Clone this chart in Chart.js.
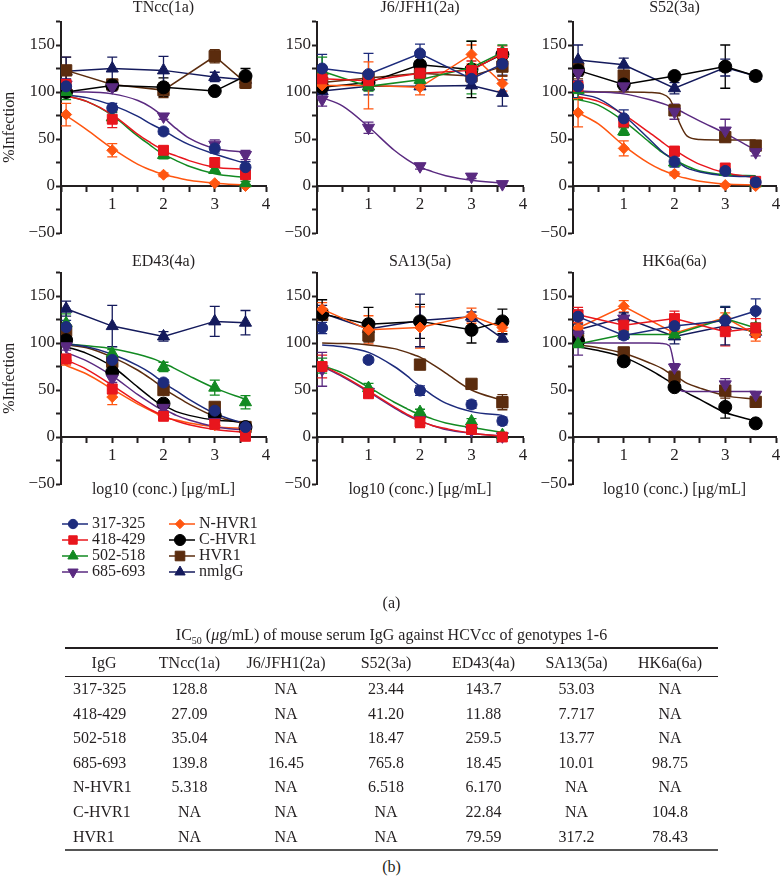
<!DOCTYPE html>
<html>
<head>
<meta charset="utf-8">
<script src="https://cdn.jsdelivr.net/npm/chart.js@4.4.1/dist/chart.umd.min.js"></script>
<style>
  html, body { margin: 0; padding: 0; background: #fff; width: 783px; height: 878px; overflow: hidden; }
  body { position: relative; font-family: "Liberation Serif", "DejaVu Serif", serif; color: #231f20; }
  canvas { position: absolute; }
  .lab { position: absolute; left: 0; width: 783px; text-align: center; font-size: 16px; line-height: 20px; }
  #ic50 { position: absolute; left: 65px; top: 647px; width: 653px; border-collapse: collapse; font-size: 16px; table-layout: fixed; }
  #ic50 td { padding: 0; height: 24.6px; line-height: 24.6px; text-align: center; white-space: nowrap; }
  #ic50 tr.head td { height: 25px; line-height: 27px; border-top: 2px solid #231f20; border-bottom: 1px solid #231f20; }
  #ic50 tr:last-child td { border-bottom: 2px solid #555; }
  #ic50 td.name { text-align: left; padding-left: 8px; }
  #ic50 tr.head td.name { text-align: center; padding-left: 0; }
</style>
</head>
<body>
<canvas id="p0" width="275" height="252" style="left:0px;top:-2px"></canvas>
<canvas id="p1" width="260" height="252" style="left:272px;top:-2px"></canvas>
<canvas id="p2" width="257" height="252" style="left:528px;top:-2px"></canvas>
<canvas id="p3" width="275" height="260" style="left:0px;top:252px"></canvas>
<canvas id="p4" width="260" height="260" style="left:272px;top:252px"></canvas>
<canvas id="p5" width="257" height="260" style="left:528px;top:252px"></canvas>
<canvas id="legA" width="105" height="90" style="left:56px;top:512px"></canvas>
<canvas id="legB" width="105" height="90" style="left:163px;top:512px"></canvas>
<div class="lab" style="top:593px">(a)</div>
<div class="lab" style="top:625px">IC<sub style="font-size:10px">50</sub> (<i>μ</i>g/mL) of mouse serum IgG against HCVcc of genotypes 1-6</div>
<table id="ic50"></table>
<div class="lab" style="top:857px">(b)</div>

<script>
// ---- data ----
const SERIES = ["317-325", "418-429", "502-518", "685-693", "N-HVR1", "C-HVR1", "HVR1", "nmlgG"];
const TITLES = ["TNcc(1a)", "J6/JFH1(2a)", "S52(3a)", "ED43(4a)", "SA13(5a)", "HK6a(6a)"];
const DOSE_X = [0.1, 1, 2, 3, 3.6];
const FIT_X = [0.1, 0.5, 1, 1.5, 1.75, 1.9, 2, 2.1, 2.25, 2.5, 3, 3.6];

const tnccMean = [
  [106, 83, 58, 40, 20], [108, 71, 38, 25, 12], [100, 73, 33, 17, 3], [108, 105, 74, 44, 33],
  [76, 38, 12, 3, 0], [100, 107, 105, 101, 117], [123, 108, 102, 138, 110], [122, 125, 123, 116, 113]
];
const tnccErr = [
  [8, 5, 3, 5, 6], [10, 9, 4, 4, 4], [8, 6, 4, 3, 2], [6, 4, 3, 5, 5],
  [12, 7, 2, 1, 1], [5, 4, 10, 3, 8], [14, 4, 8, 7, 6], [15, 12, 15, 5, 3]
];
const tnccFit = [
  [97, 94, 86, 74, 66, 62, 59, 56, 51, 44, 34, 24],
  [96, 90, 76, 55, 46, 41, 38, 35, 32, 27, 20, 18],
  [96, 90, 75, 53, 43, 37, 34, 31, 27, 21, 13, 9],
  [100, 100, 98, 91, 84, 78, 73, 68, 61, 51, 40, 36],
  [75, 60, 40, 23, 17, 14, 12, 11, 9, 6, 3, 1],
  null, null, null
];

const j6Mean = [
  [125, 119, 141, 114, 130], [114, 112, 120, 123, 141], [122, 106, 113, 126, 142], [92, 62, 21, 10, 2],
  [107, 107, 105, 140, 109], [105, 110, 129, 124, 140], [110, 115, 120, 117, 127], [101, 106, 106, 107, 99]
];
const j6Err = [
  [15, 22, 10, 10, 12], [8, 10, 6, 10, 8], [15, 5, 6, 28, 8], [7, 6, 3, 2, 1],
  [5, 25, 8, 10, 8], [5, 6, 8, 30, 6], [5, 6, 4, 5, 10], [4, 4, 3, 3, 14]
];
const j6Fit = [
  null, null, null,
  [94, 85, 63, 38, 28, 23, 20, 18, 15, 11, 6, 3],
  null, null, null, null
];

const s52Mean = [
  [106, 72, 26, 16, 4], [106, 68, 37, 19, 5], [102, 58, 25, 15, 3], [120, 106, 79, 59, 36],
  [78, 40, 13, 1, 0], [123, 108, 117, 127, 117], [124, 117.5, 80.5, 52, 43], [134, 129, 104, 126, 117]
];
const s52Err = [
  [12, 9, 6, 4, 2], [6, 6, 5, 5, 2], [10, 4, 4, 3, 2], [8, 5, 8, 12, 4],
  [15, 8, 2, 1, 1], [6, 5, 4, 23, 5], [10, 4, 4, 4, 3], [16, 7, 6, 9, 4]
];
const s52Fit = [
  [98, 93, 75, 50, 37, 31, 27, 24, 19, 15, 11, 10],
  [95, 90, 76, 57, 47, 41, 38, 35, 30, 23, 14, 9],
  [92, 86, 69, 47, 36, 31, 28, 25, 21, 16, 12, 11],
  [101, 100, 98, 92, 88, 85, 82, 80, 76, 69, 56, 38],
  [78, 66, 43, 24, 17, 14, 12, 10, 8, 5, 2, 1],
  null,
  [100, 100, 100, 99.5, 98, 93, 82, 67, 53, 49.5, 49, 49],
  null
];

const ed43Mean = [
  [117, 82, 58, 28, 10.6], [83, 51, 22, 13.5, 0.7], [121, 89, 74.5, 52.5, 37], [96.5, 62, 31, 16, 7],
  [81.5, 42.5, 23, 12.4, 7], [103, 69, 35.5, 23, 10.6], [113, 80, 50, 32, 10.6], [136.5, 118, 107, 123, 121.6]
];
const ed43Err = [
  [7, 4, 3, 3, 5], [5, 5, 3, 3, 1], [10, 4, 5, 8, 7], [4, 4, 3, 3, 2],
  [5, 8, 3, 3, 2], [4, 5, 4, 4, 3], [6, 5, 4, 4, 3], [8, 22, 5, 16, 13]
];
const ed43Fit = [
  [99, 96, 88, 76, 68, 62, 58, 54, 49, 40, 25, 14],
  [82, 72, 55, 37, 29, 25, 22, 20, 17, 13, 8, 5],
  [99, 97, 94, 88, 84, 81, 78, 76, 72, 65, 52, 40],
  [90, 81, 65, 45, 36, 31, 29, 27, 23, 18, 11, 7],
  [76, 67, 51, 35, 28, 24, 22, 20, 18, 15, 11, 9],
  [96, 89, 75, 53, 42, 36, 33, 31, 27, 23, 18, 16],
  [98, 95, 85, 71, 62, 56, 52, 48, 43, 35, 22, 14],
  null
];

const sa13Mean = [
  [116, 82, 49.4, 34.6, 17], [75, 46, 16, 8, 0], [76, 52, 26.5, 16.6, 2], [72, 48, 18, 7, 0.7],
  [136, 114, 116.5, 129, 116.5], [131, 120, 123, 114, 123], [130, 108, 77, 56.5, 37], [132, 115, 124, 128, 105]
];
const sa13Err = [
  [6, 3, 5, 4, 4], [12, 4, 6, 5, 1], [8, 5, 3, 3, 1], [18, 4, 4, 3, 1],
  [7, 15, 22, 8, 4], [15, 18, 18, 14, 13], [6, 7, 3, 4, 8], [8, 8, 28, 5, 4]
];
const sa13Fit = [
  [98, 96, 90, 75, 65, 58, 54, 50, 44, 36, 27, 23],
  [76, 65, 49, 32, 24, 20, 17, 15, 12, 9, 4, 1],
  [76, 68, 53, 37, 30, 26, 24, 22, 19, 15, 10, 5],
  [75, 64, 48, 31, 23, 19, 17, 15, 12, 8, 4, 1],
  null, null,
  [100, 99.5, 98, 94, 90, 87, 85, 82, 77, 68, 50, 39],
  null
];

const hk6aMean = [
  [128, 108, 118, 124, 134], [130, 119, 126, 112, 116], [99, 109, 109, 126, 116], [109, 126, 74, 56, 45],
  [116, 139, 110.5, 127, 109], [102, 80.5, 53, 32, 14.5], [103, 90, 64, 49.4, 37.4], [114, 127, 107, 118, 112]
];
const hk6aErr = [
  [7, 4, 6, 15, 13], [8, 5, 8, 15, 10], [4, 4, 4, 12, 5], [22, 3, 4, 6, 3],
  [5, 6, 6, 5, 7], [4, 3, 3, 12, 3], [5, 4, 4, 8, 4], [6, 5, 8, 20, 5]
];
const hk6aFit = [
  null, null, null,
  [100, 100, 100, 100, 99.5, 97, 75, 50, 48.5, 48.5, 48.5, 48.5],
  null,
  [96, 92, 85, 72, 64, 59, 56, 52, 47, 40, 26, 17],
  [98, 95, 89, 79, 73, 68, 65, 62, 57, 52, 44, 40],
  null
];

const IC50_HEAD = ["IgG", "TNcc(1a)", "J6/JFH1(2a)", "S52(3a)", "ED43(4a)", "SA13(5a)", "HK6a(6a)"];
const IC50_ROWS = [
  ["317-325", "128.8", "NA", "23.44", "143.7", "53.03", "NA"],
  ["418-429", "27.09", "NA", "41.20", "11.88", "7.717", "NA"],
  ["502-518", "35.04", "NA", "18.47", "259.5", "13.77", "NA"],
  ["685-693", "139.8", "16.45", "765.8", "18.45", "10.01", "98.75"],
  ["N-HVR1", "5.318", "NA", "6.518", "6.170", "NA", "NA"],
  ["C-HVR1", "NA", "NA", "NA", "22.84", "NA", "104.8"],
  ["HVR1", "NA", "NA", "NA", "79.59", "317.2", "78.43"]
];

// ---- styles ----
const INK = "#231f20";
const COLORS = ["#1d2b7c", "#e8161d", "#128a22", "#5a2a80", "#ff5610", "#000000", "#5b2c0e", "#141a5c"];
const STYLES = ["circle", "rect", "triangle", "triangle", "rectRot", "circle", "rect", "triangle"];
const ROTATIONS = [0, 0, 0, 180, 0, 0, 0, 0];
const RADII = [5.5, 7, 7, 7, 5.5, 6.5, 8, 7];

Chart.defaults.font.family = '"Liberation Serif", "DejaVu Serif", serif';
Chart.defaults.font.size = 16;
Chart.defaults.color = INK;

const errorBars = {
  id: "errorBars",
  beforeDatasetsDraw(chart) {
    const { ctx, scales: { x, y } } = chart;
    chart.data.datasets.forEach((ds) => {
      if (!ds.errors) return;
      ctx.save();
      ctx.strokeStyle = ds.borderColor;
      ctx.lineWidth = 1.3;
      ds.data.forEach((p, j) => {
        const e = ds.errors[j];
        if (!e) return;
        const px = x.getPixelForValue(p.x);
        const top = y.getPixelForValue(p.y + e);
        const bot = y.getPixelForValue(p.y - e);
        ctx.beginPath();
        ctx.moveTo(px, top); ctx.lineTo(px, bot);
        ctx.moveTo(px - 5, top); ctx.lineTo(px + 5, top);
        ctx.moveTo(px - 5, bot); ctx.lineTo(px + 5, bot);
        ctx.stroke();
      });
      ctx.restore();
    });
  },
};

const PANELS = [
  { mean: tnccMean, err: tnccErr, fit: tnccFit },
  { mean: j6Mean, err: j6Err, fit: j6Fit },
  { mean: s52Mean, err: s52Err, fit: s52Fit },
  { mean: ed43Mean, err: ed43Err, fit: ed43Fit },
  { mean: sa13Mean, err: sa13Err, fit: sa13Fit },
  { mean: hk6aMean, err: hk6aErr, fit: hk6aFit },
];

const axisLine = { display: true, color: INK, width: 2 };
const tickMarks = { display: true, drawOnChartArea: false, drawTicks: true, tickLength: 5, tickWidth: 2, tickColor: INK };
const titleOnly = (text, padding, position) => ({
  type: "linear",
  position,
  display: true,
  grid: { display: false, drawTicks: false },
  border: { display: false },
  ticks: { display: false },
  title: { display: true, text, padding },
});

PANELS.forEach((p, k) => {
  const row = Math.floor(k / 3);
  const col = k % 3;
  const datasets = [];

  SERIES.forEach((name, i) => {
    datasets.push({
      label: name,
      data: DOSE_X.map((x, j) => ({ x, y: p.mean[i][j] })),
      errors: p.err[i],
      showLine: !p.fit[i],
      borderColor: COLORS[i],
      backgroundColor: COLORS[i],
      borderWidth: 1.5,
      tension: 0,
      pointStyle: STYLES[i],
      pointRotation: ROTATIONS[i],
      pointRadius: RADII[i],
      pointBorderWidth: 1,
      order: 1,
    });
    if (p.fit[i]) {
      datasets.push({
        label: name + " fit",
        data: FIT_X.map((x, j) => ({ x, y: p.fit[i][j] })),
        borderColor: COLORS[i],
        borderWidth: 1.5,
        pointRadius: 0,
        cubicInterpolationMode: "monotone",
        order: 2,
      });
    }
  });

  const scales = {
    x: {
      type: "linear",
      min: 0,
      max: 4,
      position: { y: 0 },
      border: axisLine,
      grid: tickMarks,
      ticks: {
        stepSize: 0.5,
        autoSkip: false,
        maxRotation: 0,
        padding: 3,
        font: { size: 17 },
        callback: (v) => (Number.isInteger(v) && v > 0 ? String(v) : ""),
      },
    },
    y: {
      type: "linear",
      min: -50,
      max: 175,
      position: "left",
      afterFit: (s) => { s.width = col === 0 ? 61 : 45; },
      border: axisLine,
      grid: tickMarks,
      ticks: {
        stepSize: 25,
        autoSkip: false,
        padding: 1,
        font: { size: 17 },
        callback: (v) => (v % 50 === 0 ? (v < 0 ? "\u2212" + -v : String(v)) : ""),
      },
      title: { display: col === 0, text: "%Infection", padding: 0 },
    },
    xt: titleOnly(TITLES[k], { top: 0, bottom: row === 0 ? 4.3 : 1.3 }, "top"),
  };
  if (row === 1) {
    scales.x2 = titleOnly("log10 (conc.) [\u03bcg/mL]", { top: -4, bottom: 0 }, "bottom");
  }

  new Chart(document.getElementById("p" + k), {
    type: "line",
    data: { datasets },
    options: {
      responsive: false,
      animation: false,
      events: [],
      layout: { padding: { left: 0, top: 0, right: col === 2 ? 5 : 7, bottom: row === 0 ? 17 : 12.8 } },
      plugins: { legend: { display: false }, tooltip: { enabled: false } },
      scales,
    },
    plugins: [errorBars],
  });
});

// ---- legend: two columns of four ----
function legendIcon(i) {
  const c = document.createElement("canvas");
  c.width = 30;
  c.height = 14;
  const ctx = c.getContext("2d");
  ctx.strokeStyle = COLORS[i];
  ctx.fillStyle = COLORS[i];
  ctx.lineWidth = 1.5;
  ctx.beginPath();
  ctx.moveTo(0, 7);
  ctx.lineTo(30, 7);
  ctx.stroke();
  ctx.lineWidth = 1;
  Chart.helpers.drawPoint(ctx, { pointStyle: STYLES[i], rotation: ROTATIONS[i], radius: RADII[i] * 0.85, borderWidth: 1 }, 15, 7);
  return c;
}

[["legA", [0, 1, 2, 3]], ["legB", [4, 5, 6, 7]]].forEach(([id, idx]) => {
  new Chart(document.getElementById(id), {
    type: "line",
    data: { datasets: idx.map((i) => ({ label: SERIES[i], data: [], borderColor: COLORS[i], icon: legendIcon(i) })) },
    options: {
      responsive: false,
      animation: false,
      events: [],
      layout: { padding: { left: 6, top: 4 } },
      scales: { x: { display: false }, y: { display: false } },
      plugins: {
        tooltip: { enabled: false },
        legend: {
          position: "top",
          align: "start",
          maxHeight: 80,
          labels: {
            usePointStyle: true,
            pointStyleWidth: 22,
            padding: 0,
            color: INK,
            font: { size: 16 },
            generateLabels: (chart) =>
              chart.data.datasets.map((ds, i) => ({
                text: ds.label,
                pointStyle: ds.icon,
                fillStyle: ds.borderColor,
                strokeStyle: ds.borderColor,
                lineWidth: 0,
                hidden: false,
                datasetIndex: i,
                fontColor: INK,
              })),
          },
        },
      },
    },
  });
});

// ---- IC50 table ----
const table = document.getElementById("ic50");
const widths = [78, 93, 100, 100, 95, 91, 96];
const cg = document.createElement("colgroup");
widths.forEach((w) => {
  const c = document.createElement("col");
  c.style.width = w + "px";
  cg.appendChild(c);
});
table.appendChild(cg);
[IC50_HEAD, ...IC50_ROWS].forEach((r, ri) => {
  const tr = document.createElement("tr");
  if (ri === 0) tr.className = "head";
  r.forEach((v, ci) => {
    const td = document.createElement("td");
    td.textContent = v;
    if (ci === 0) td.className = "name";
    tr.appendChild(td);
  });
  table.appendChild(tr);
});
</script>
</body>
</html>
